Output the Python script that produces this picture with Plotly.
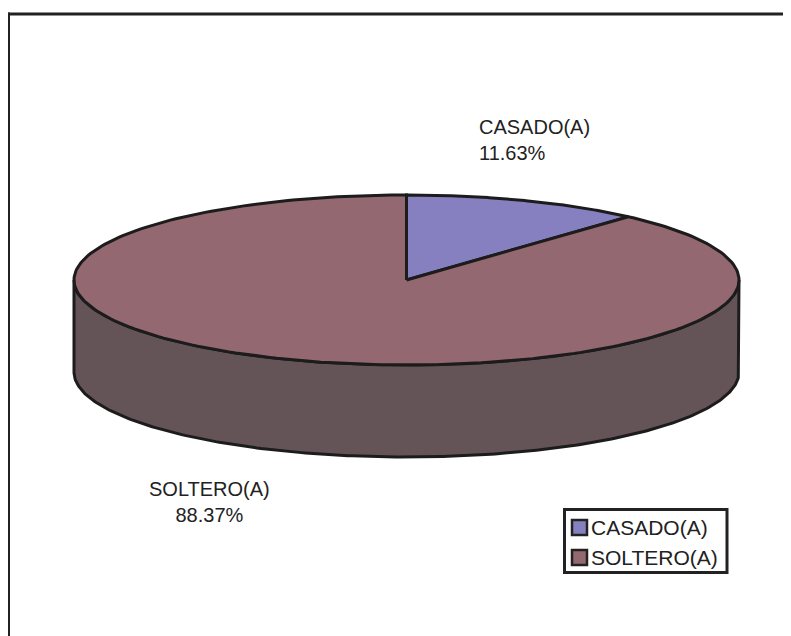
import numpy as np
import plotly.graph_objects as go

# ---- data ----
labels = ["CASADO(A)", "SOLTERO(A)"]
percent = [11.63, 88.37]
top_colors = ["#8680C0", "#946870"]
side_colors = ["#625F8A", "#645458"]

# ---- geometry (page pixel space; page body has an 8px margin) ----
PAGE_W, PAGE_H = 791, 636
OFF = 8
W, H = PAGE_W - OFF, PAGE_H - OFF
cx, cy, rx, ry, depth = 406.5, 280.0, 332.5, 85.0, 92.0
EDGE = "#1c1c1c"
FONT = "Liberation Sans, Arial, sans-serif"


def arc(a_from, a_to, dy=0.0, n=240):
    t = np.radians(np.linspace(a_from, a_to, n))
    return cx + rx * np.cos(t), cy - ry * np.sin(t) + dy


fig = go.Figure()

# slice angles: start at 12 o'clock, clockwise
angles = []
a0 = 90.0
for p in percent:
    a1 = a0 - 360.0 * p / 100.0
    angles.append((a0, a1))
    a0 = a1

# side walls (front half only)
for (a0, a1), col in zip(angles, side_colors):
    lo, hi = a1, a0
    for k in range(-3, 2):
        f0, f1 = 180 + 360 * k, 360 + 360 * k
        s, e = max(lo, f0), min(hi, f1)
        if e > s:
            xt, yt = arc(s, e)
            xb, yb = arc(e, s, dy=depth)
            xs = np.concatenate([xt, xb, xt[:1]])
            ys = np.concatenate([yt, yb, yt[:1]])
            fig.add_trace(go.Scatter(x=xs, y=ys, mode="lines", fill="toself",
                                     fillcolor=col, line=dict(color=EDGE, width=3),
                                     hoverinfo="skip", showlegend=False))

# top faces
for (a0, a1), col, lab in zip(angles, top_colors, labels):
    xa, ya = arc(a0, a1)
    xs = np.concatenate([[cx], xa, [cx]])
    ys = np.concatenate([[cy], ya, [cy]])
    fig.add_trace(go.Scatter(x=xs, y=ys, mode="lines", fill="toself",
                             fillcolor=col, line=dict(color=EDGE, width=3),
                             hoverinfo="skip", showlegend=False, name=lab))

# data labels
label_pos = [dict(x=477, y=140, xanchor="left", align="left"),
             dict(x=209, y=502, xanchor="center", align="center")]
for lab, p, pos in zip(labels, percent, label_pos):
    fig.add_annotation(text=f"{lab}<br>{p:.2f}%", x=pos["x"], y=pos["y"],
                       xanchor=pos["xanchor"], yanchor="middle", align=pos["align"],
                       showarrow=False, font=dict(family=FONT, size=20, color="#222"))

shapes = []
# outer frame: only left and top edges are inside the picture
shapes.append(dict(type="line", x0=8.5, y0=12.5, x1=8.5, y1=PAGE_H + 40,
                   line=dict(color="#222", width=3), layer="above"))
shapes.append(dict(type="line", x0=7, y0=14, x1=PAGE_W + 40, y1=14,
                   line=dict(color="#222", width=3), layer="above"))
# legend box
shapes.append(dict(type="rect", x0=564.5, y0=509.5, x1=727, y1=572.5,
                   line=dict(color="#222", width=3), fillcolor="white", layer="above"))
for i, (lab, col) in enumerate(zip(labels, top_colors)):
    yc = 527.5 + 30 * i
    shapes.append(dict(type="rect", x0=572, y0=yc - 7.5, x1=587, y1=yc + 7.5,
                       line=dict(color="#222", width=2.5), fillcolor=col, layer="above"))
    fig.add_annotation(text=lab, x=589, y=yc, xanchor="left", yanchor="middle",
                       showarrow=False, font=dict(family=FONT, size=21, color="#222"))

fig.update_layout(
    width=W, height=H, margin=dict(l=0, r=0, t=0, b=0),
    paper_bgcolor="white", plot_bgcolor="white", showlegend=False,
    shapes=shapes,
    xaxis=dict(range=[OFF, OFF + W], visible=False, fixedrange=True),
    yaxis=dict(range=[OFF + H, OFF], visible=False, fixedrange=True),
)

fig.write_html("out.html")
